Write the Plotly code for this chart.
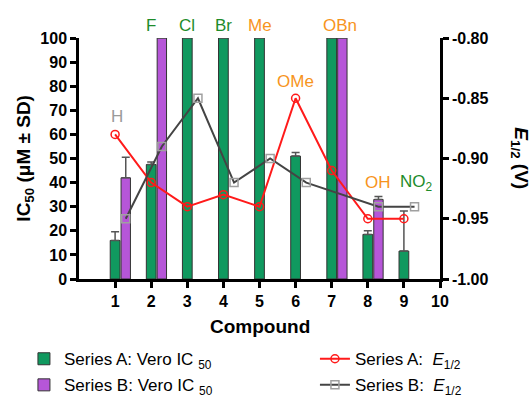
import plotly.graph_objects as go

compounds = [1, 2, 3, 4, 5, 6, 7, 8, 9]
ic50_a = [16, 47.5, 100, 100, 100, 51, 100, 18.5, 11.6]
ic50_a_sd = [3.6, 1.0, None, None, None, 1.5, None, 1.5, 16.6]
ic50_b = [42, 100, None, None, None, None, 100, 33, None]
ic50_b_sd = [8.5, None, None, None, None, None, None, 1.2, None]
e12_a = [-0.88, -0.92, -0.94, -0.93, -0.94, -0.85, -0.91, -0.95, -0.95]
e12_b = [-0.95, -0.89, -0.85, -0.92, -0.90, -0.92, None, -0.94, -0.94]

labels = ["H", "F", "Cl", "Br", "Me", "OMe", "OBn", "OH", "NO<sub>2</sub>"]
label_x = [1.05, 2, 3, 4, 5, 6, 7.24, 8.28, 9.35]
label_y = [67.5, 105, 105, 105, 105, 82, 105, 40, 40]
label_col = ["#9a9a9a", "#1e8c2a", "#1e8c2a", "#1e8c2a", "#f7941d", "#f7941d", "#f7941d", "#f7941d", "#1e8c2a"]

right_ticks = [-1.00, -0.95, -0.90, -0.85, -0.80]
left_ticks = list(range(0, 101, 10))

GREEN = "#10995f"
PURPLE = "#b656d8"
FONT = "Liberation Sans, Arial, sans-serif"
B_OFF = 0.295

fig = go.Figure()

fig.add_trace(go.Bar(
    x=compounds, y=ic50_a, width=0.27, offset=-0.135,
    marker=dict(color=GREEN, line=dict(color="#333333", width=1)),
    error_y=dict(type="data", symmetric=False, array=[v if v else 0 for v in ic50_a_sd],
                 arrayminus=[0] * len(compounds), color="#555555", thickness=1.5, width=4),
    name="Series A: Vero IC <sub>50</sub>", yaxis="y", legend="legend", legendgroup="a1"))

fig.add_trace(go.Bar(
    x=[c + B_OFF for c in compounds], y=ic50_b, width=0.26, offset=-0.13,
    marker=dict(color=PURPLE, line=dict(color="#333333", width=1)),
    error_y=dict(type="data", symmetric=False, array=[v if v else 0 for v in ic50_b_sd],
                 arrayminus=[0] * len(compounds), color="#555555", thickness=1.5, width=4),
    name="Series B: Vero IC <sub>50</sub>", yaxis="y", legend="legend", legendgroup="b1"))

fig.add_trace(go.Scatter(
    x=compounds, y=e12_a, mode="lines+markers",
    line=dict(color="#ff1a1a", width=2),
    marker=dict(symbol="circle-open", size=8, color="#ff1a1a", line=dict(width=1.5)),
    name="Series A:  <i>E</i><sub>1/2</sub>", yaxis="y2", legend="legend2", legendgroup="a2"))

fig.add_trace(go.Scatter(
    x=[c + B_OFF for c in compounds], y=e12_b, mode="lines+markers", connectgaps=True,
    line=dict(color="#444444", width=2),
    marker=dict(symbol="square-open", size=8, color="#a0a0a0", line=dict(width=1.5)),
    name="Series B:  <i>E</i><sub>1/2</sub>", yaxis="y2", legend="legend2", legendgroup="b2"))

for t, x, y, c in zip(labels, label_x, label_y, label_col):
    fig.add_annotation(x=x, y=y / 100, xref="x", yref="paper", text=t, showarrow=False,
                       xanchor="center", yanchor="middle",
                       font=dict(family=FONT, size=17, color=c))

fig.add_annotation(x=-0.152, y=0.5, xref="paper", yref="paper", textangle=-90,
                   xanchor="center", yanchor="middle",
                   text="<b>IC<sub>50</sub> (μM ± SD)</b>", showarrow=False,
                   font=dict(family=FONT, size=19, color="black"))
fig.add_annotation(x=1.222, y=0.5, xref="paper", yref="paper", textangle=90,
                   xanchor="center", yanchor="middle",
                   text="<b><i>E</i><sub>1/2</sub> (V)</b>", showarrow=False,
                   font=dict(family=FONT, size=19, color="black"))
fig.add_annotation(x=0.5, y=-0.199, xref="paper", yref="paper",
                   xanchor="center", yanchor="middle",
                   text="<b>Compound</b>", showarrow=False,
                   font=dict(family=FONT, size=19, color="black"))

axis_common = dict(showline=True, linecolor="black", linewidth=2.5, ticks="outside",
                   ticklen=6, tickwidth=2.5, tickcolor="black", showgrid=False, zeroline=False,
                   tickfont=dict(family=FONT, size=16, color="black", weight="bold"))

legend_common = dict(orientation="v", xref="container", xanchor="left",
                     yref="container", yanchor="top", y=0.147, tracegroupgap=1,
                     bgcolor="rgba(0,0,0,0)",
                     font=dict(family=FONT, size=17, color="black"), traceorder="grouped")

fig.update_layout(
    width=532, height=400,
    margin=dict(l=79, r=92, t=38, b=121, autoexpand=False),
    plot_bgcolor="white", paper_bgcolor="white",
    barmode="overlay",
    showlegend=True,
    legend=dict(x=0.045, **legend_common),
    legend2=dict(x=0.592, **legend_common),
    xaxis=dict(range=[0, 10], tickvals=list(range(1, 11)), **axis_common),
    yaxis=dict(range=[0, 100], tickvals=left_ticks, **axis_common),
    yaxis2=dict(range=[-1.0, -0.8], overlaying="y", side="right", anchor="x",
                tickvals=right_ticks, ticktext=[f"{v:.2f}" for v in right_ticks], **axis_common),
)

fig.write_html("out.html")
